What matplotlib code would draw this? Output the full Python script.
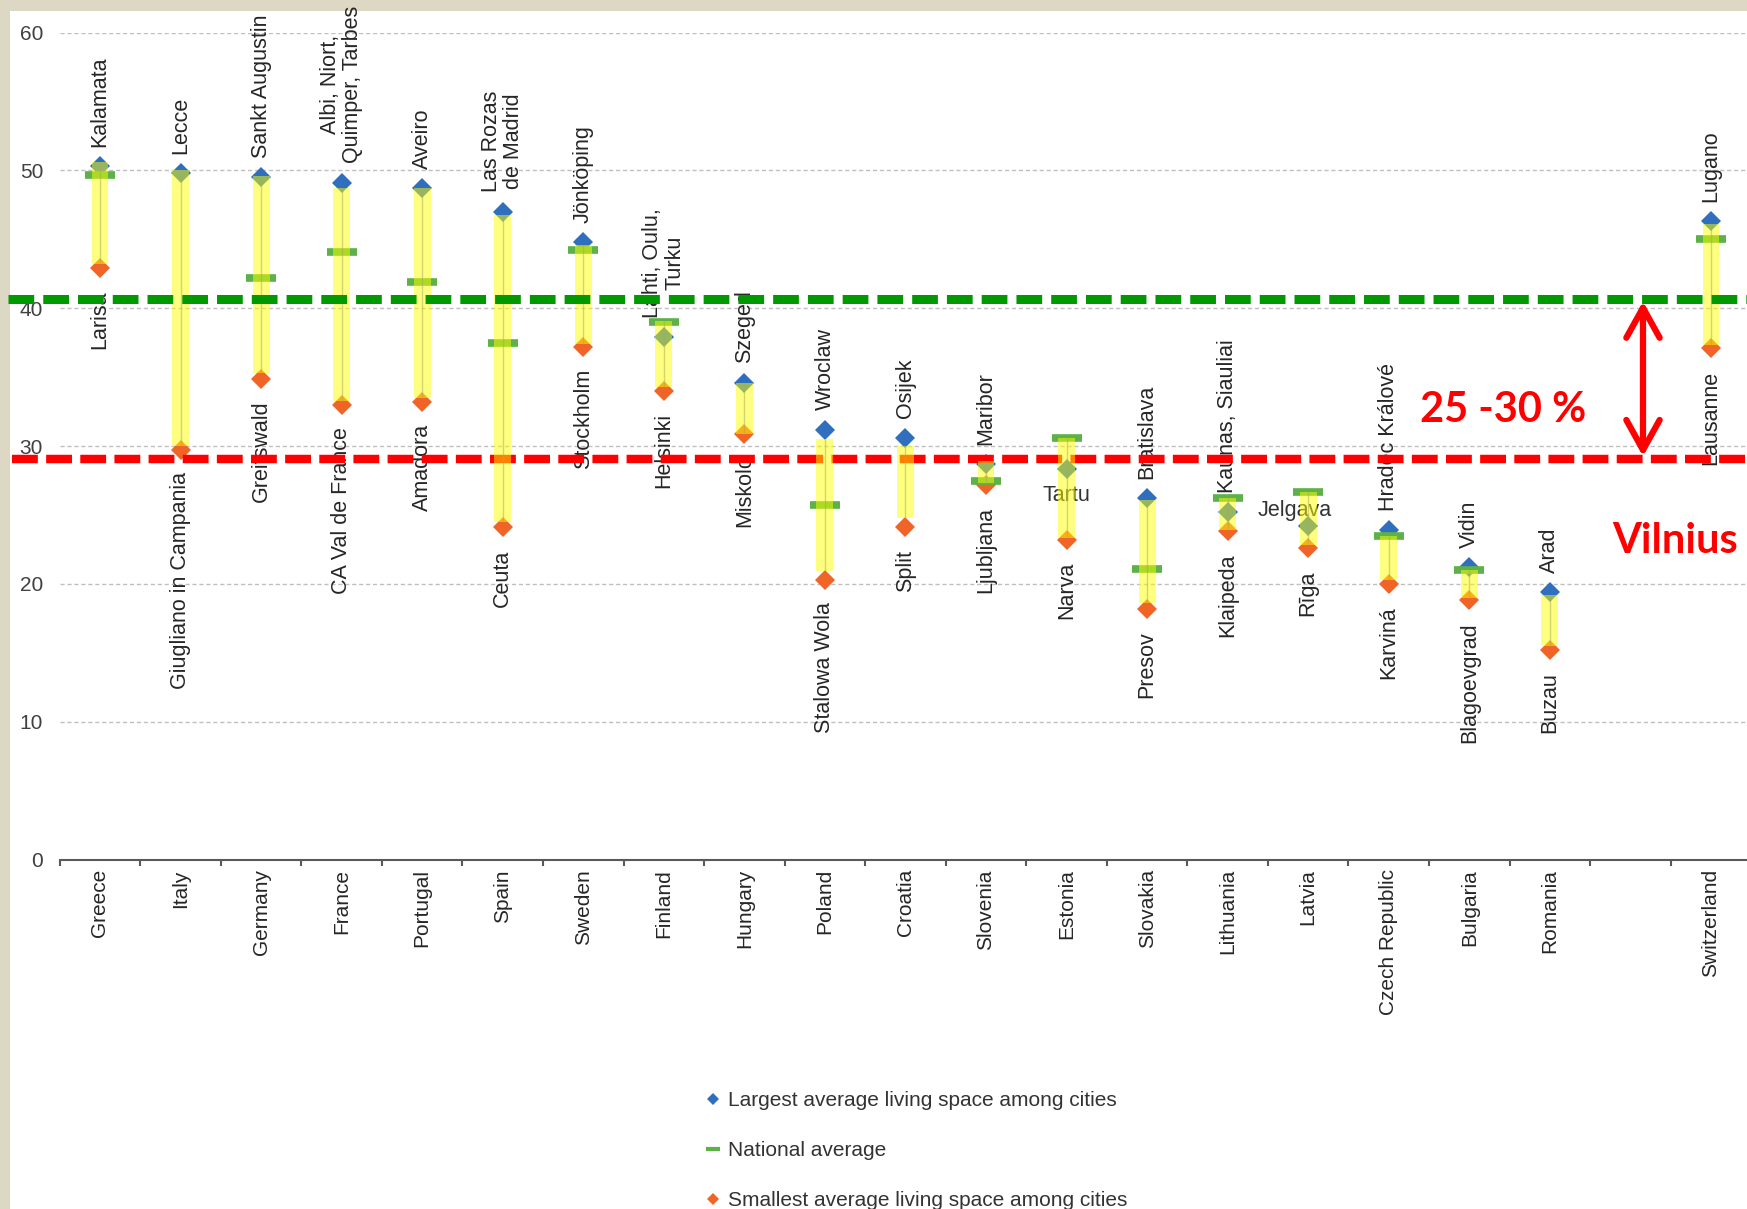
import numpy as np
import matplotlib
matplotlib.use('Agg')
import matplotlib.pyplot as plt
import matplotlib.transforms as mtransforms
from matplotlib.lines import Line2D
from matplotlib.patches import Rectangle

plt.rcParams['font.family'] = ['Liberation Sans', 'DejaVu Sans']

nan = np.nan

# one empty slot before Switzerland, as in the original chart
countries = ["Greece", "Italy", "Germany", "France", "Portugal", "Spain", "Sweden",
             "Finland", "Hungary", "Poland", "Croatia", "Slovenia", "Estonia",
             "Slovakia", "Lithuania", "Latvia", "Czech Republic", "Bulgaria",
             "Romania", "", "Switzerland"]

largest = [50.3, 49.8, 49.5, 49.1, 48.7, 47.0, 44.8, 37.9, 34.6, 31.2, 30.6,
           28.7, 28.3, 26.2, 25.2, 24.2, 23.9, 21.2, 19.4, nan, 46.3]
national = [49.7, nan, 42.2, 44.1, 41.9, 37.5, 44.2, 39.0, nan, 25.7, nan,
            27.5, 30.6, 21.1, 26.2, 26.7, 23.5, 21.0, nan, nan, 45.0]
smallest = [42.9, 29.7, 34.9, 33.0, 33.2, 24.1, 37.2, 34.0, 30.9, 20.3, 24.1,
            27.2, 23.2, 18.2, 23.8, 22.6, 20.0, 18.8, 15.2, nan, 37.1]

# yellow high-low band
band_top = [50.6, 50.0, 49.6, 48.7, 48.7, 46.8, 44.6, 39.1, 34.6, 30.5, 30.0,
            28.9, 30.6, 26.1, 26.2, 26.7, 23.5, 21.0, 19.2, nan, 46.1]
band_bottom = [43.2, 30.0, 35.3, 33.3, 33.5, 24.5, 37.4, 34.3, 30.9, 20.9, 24.8,
               27.3, 23.3, 18.6, 23.9, 22.8, 20.3, 19.0, 15.5, nan, 37.3]

top_cities = ["Kalamata", "Lecce", "Sankt Augustin", "Albi, Niort,\nQuimper, Tarbes",
              "Aveiro", "Las Rozas\nde Madrid", "Jönköping", "Lahti, Oulu,\nTurku",
              "Szeged", "Wroclaw", "Osijek", "Maribor", "Tartu", "Bratislava",
              "Kaunas, Siauliai", "Jelgava", "Hradec Králové", "Vidin", "Arad", "",
              "Lugano"]
bottom_cities = ["Larisa", "Giugliano in Campania", "Greifswald", "CA Val de France",
                 "Amadora", "Ceuta", "Stockholm", "Helsinki", "Miskolc", "Stalowa Wola",
                 "Split", "Ljubljana", "Narva", "Presov", "Klaipeda", "Rīga", "Karviná",
                 "Blagoevgrad", "Buzau", "", "Lausanne"]

vilnius_high = 40.65
vilnius_low = 29.05
y_ticks = [0, 10, 20, 30, 40, 50, 60]

blue = '#2F6FBE'
orange = '#F06428'
green = '#5CB248'
txt = '#262626'

W, H = 1747, 1209
fig = plt.figure(figsize=(W / 100, H / 100), dpi=100, facecolor='#DDD8C3')
fig.add_artist(Rectangle((10 / W, 0), 1, 1 - 11 / H, transform=fig.transFigure,
                         facecolor='white', edgecolor='none', zorder=-5))

ax = fig.add_axes([59.7 / W, 1 - 859.5 / H, 80.55 * 21 / W, (859.5 - 32.6) / H])
ax.set_facecolor('none')
x = np.arange(len(countries))

lo = np.array(band_bottom)
hi = np.array(band_top)
ok = ~np.isnan(lo)
ax.bar(x[ok], hi[ok] - lo[ok], bottom=lo[ok], width=0.21, color='#FFFF00',
       alpha=0.5, linewidth=0, zorder=4)
ax.vlines(x[ok], lo[ok], hi[ok], color='#A8A860', lw=1, alpha=0.5, zorder=4.1)

ax.plot(x, largest, 'D', ls='none', color=blue, ms=10, mew=0, zorder=2)
ax.plot(x, smallest, 'D', ls='none', color=orange, ms=10, mew=0, zorder=2)
ax.plot(x, national, '_', ls='none', color=green, ms=21.5, mew=5.5, zorder=2.5)

# city labels
for i in range(len(countries)):
    name = top_cities[i]
    if name == "Tartu":
        ax.annotate(name, (x[i], largest[i]), xytext=(-0.3, -22.8), textcoords='offset points',
                    ha='center', va='baseline', fontsize=15.5, color='#333333', zorder=3)
    elif name == "Jelgava":
        ax.annotate(name, (x[i], largest[i]), xytext=(-9.9, 7.2), textcoords='offset points',
                    ha='center', va='baseline', fontsize=15.5, color='#333333', zorder=3)
    elif name:
        ax.annotate(name, (x[i], largest[i]), xytext=(0, 14), textcoords='offset points',
                    rotation=90, ha='center', va='bottom', multialignment='center',
                    linespacing=1.05, fontsize=15.5, color=txt, zorder=3)
    name = bottom_cities[i]
    if name:
        ax.annotate(name, (x[i], smallest[i]), xytext=(0, -16), textcoords='offset points',
                    rotation=90, ha='center', va='top', fontsize=15.5, color=txt, zorder=3)

# Vilnius reference lines across the whole slide
trans = mtransforms.blended_transform_factory(fig.transFigure, ax.transData)
ax.plot([7.5 / W, 1], [vilnius_high, vilnius_high], transform=trans, color='#009900',
        lw=6.5, dashes=(2.85, 1.0), clip_on=False, zorder=5)
ax.plot([11.5 / W, 1], [vilnius_low, vilnius_low], transform=trans, color='#FF0000',
        lw=6.1, dashes=(3.05, 0.98), clip_on=False, zorder=3.5)

ax.annotate('', xy=(19.156, vilnius_high - 0.15), xytext=(19.156, vilnius_low + 0.2),
            arrowprops=dict(arrowstyle='<->,head_length=1.08,head_width=0.6', color='#FF0000',
                            lw=4.5, shrinkA=0, shrinkB=0, mutation_scale=20), zorder=6)
ax.text(17.42, 31.77, '25 -30 %', ha='center', va='baseline', fontsize=30,
        fontweight='bold', color='#FF0000', family=['Lato', 'DejaVu Sans'], zorder=6)
ax.text(18.77, 22.24, 'Vilnius', ha='left', va='baseline', fontsize=30,
        fontweight='bold', color='#FF0000', family=['Lato', 'DejaVu Sans'], zorder=6)

# axes styling
ax.set_xlim(-0.5, len(countries) - 0.5)
ax.set_ylim(0, 60)
ax.set_yticks(y_ticks)
ax.set_xticks(x)
ax.set_xticklabels(countries, rotation=90, fontsize=15, color=txt)
ax.set_xticks(np.arange(-0.5, len(countries), 1), minor=True)
ax.tick_params(axis='x', which='major', length=0, pad=7)
ax.tick_params(axis='x', which='minor', length=4, width=1.5, color='#595959', direction='out')
ax.tick_params(axis='y', length=0, pad=12, labelsize=15, labelcolor='#404040')
ax.yaxis.grid(True, color='#BFBFBF', ls=(0, (3, 2)), lw=1)
ax.set_axisbelow(True)
for s in ['top', 'right', 'left']:
    ax.spines[s].set_visible(False)
ax.spines['bottom'].set_color('#595959')
ax.spines['bottom'].set_linewidth(1.5)
ax.spines['bottom'].set_zorder(2.6)

handles = [Line2D([], [], marker='D', ls='none', color=blue, ms=6.5, mew=0),
           Line2D([], [], marker='_', ls='none', color=green, ms=10, mew=3),
           Line2D([], [], marker='D', ls='none', color=orange, ms=6.5, mew=0)]
labels = ["Largest average living space among cities", "National average",
          "Smallest average living space among cities"]
fig.legend(handles, labels, loc='upper left', bbox_to_anchor=(704.7 / W, 1 - 1091 / H),
           frameon=False, fontsize=15, labelcolor='#333333', handlelength=0.8,
           handletextpad=0.3, labelspacing=1.5, borderpad=0, borderaxespad=0)

fig.savefig('out.png', dpi=100, facecolor=fig.get_facecolor())
